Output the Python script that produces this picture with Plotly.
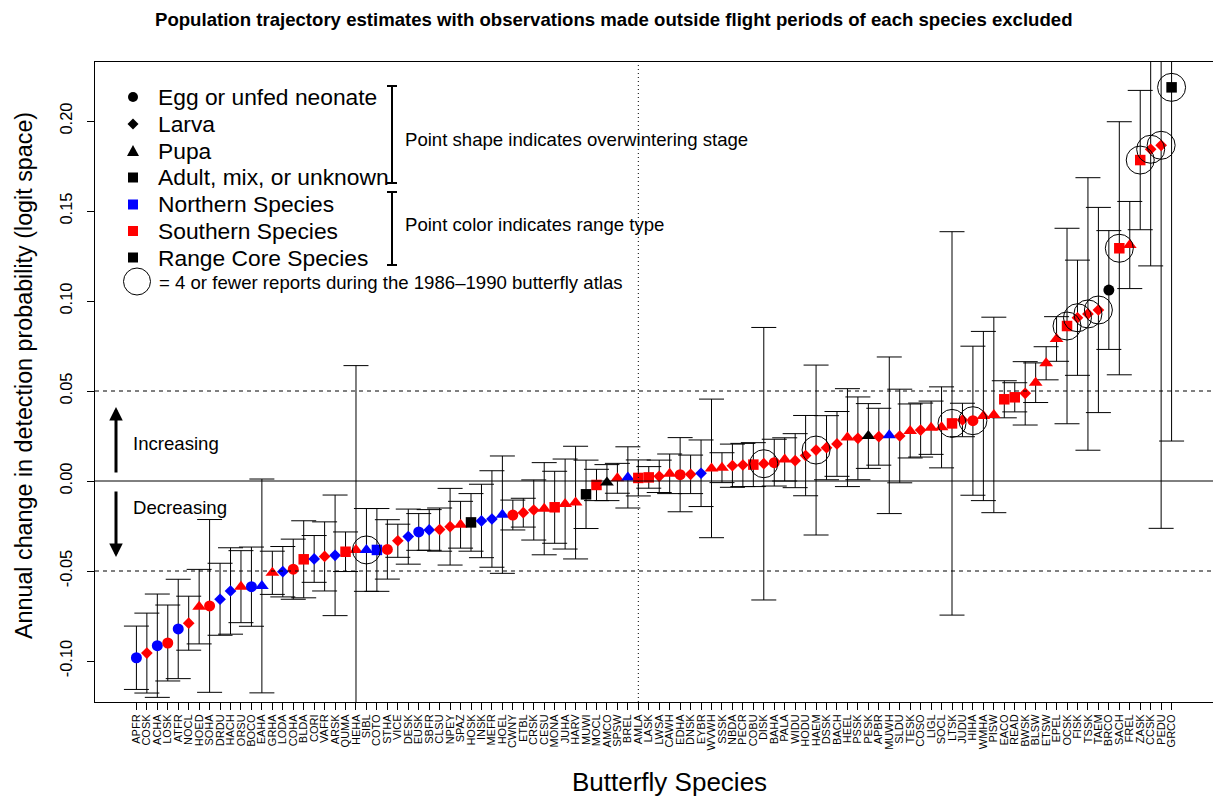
import plotly.graph_objects as go

# ---------------- data ----------------
species = ["APFR","COSK","ACHA","LOSK","ATFR","NOCL","HOED","SOHA","DRDU","HACH",
           "ORSU","BOCO","EAHA","GRHA","LODA","COHA","BLDA","CORI","VAFR","ARSK",
           "QUMA","HEHA","SIBL","COTO","STHA","VICE","DESK","EUSK","SBFR","CLSU",
           "NPEY","SPAZ","HOSK","INSK","MEFR","HOEL","CWNY","ETBL","CRSK","CESU",
           "MONA","JUHA","HARV","MUWI","MOCL","AMCO","SPSW","BREL","AMLA","LASK",
           "LWSA","CAWH","EDHA","DNSK","EYBR","WVWH","SSSK","NBDA","PECR","COBU",
           "DISK","BAHA","PALA","WIDU","HODU","HAEM","DSSK","BACH","HEEL","PSSK",
           "PESK","APBR","MUWH","SLDU","TESK","COSO","LIGL","SOCL","LTSK","JUDU",
           "HIHA","WMHA","PISW","EACO","READ","BWSK","BLSW","ETSW","EPEL","OCSK",
           "FISK","TSSK","TAEM","BRCO","SACH","FREL","ZASK","CCSK","PEDU","GRCO"]

estimate = [-0.0982,-0.0956,-0.0915,-0.0900,-0.0822,-0.0790,-0.0698,-0.0694,-0.0657,-0.0611,
            -0.0587,-0.0587,-0.0583,-0.0510,-0.0504,-0.0490,-0.0435,-0.0433,-0.0419,-0.0413,
            -0.0393,-0.0383,-0.0383,-0.0383,-0.0380,-0.0332,-0.0309,-0.0283,-0.0272,-0.0270,
            -0.0254,-0.0243,-0.0230,-0.0222,-0.0211,-0.0187,-0.0189,-0.0176,-0.0161,-0.0154,
            -0.0146,-0.0128,-0.0120,-0.0074,-0.0022,-0.0009,0.0015,0.0020,0.0017,0.0020,
            0.0026,0.0040,0.0035,0.0037,0.0043,0.0070,0.0074,0.0085,0.0089,0.0091,
            0.0096,0.0102,0.0120,0.0113,0.0141,0.0172,0.0185,0.0206,0.0241,0.0237,
            0.0250,0.0246,0.0254,0.0250,0.0278,0.0283,0.0296,0.0298,0.0320,0.0339,
            0.0335,0.0361,0.0367,0.0454,0.0465,0.0487,0.0546,0.0654,0.0789,0.0861,
            0.0907,0.0928,0.0950,0.1061,0.1293,0.1311,0.1783,0.1843,0.1865,0.2187]

ci_half = [0.0176,0.0222,0.0287,0.0211,0.0276,0.0150,0.0207,0.0480,0.0200,0.0240,
           0.0200,0.0220,0.0594,0.0120,0.0140,0.0167,0.0214,0.0130,0.0192,0.0335,
           0.0110,0.1024,0.0230,0.0230,0.0165,0.0092,0.0153,0.0102,0.0113,0.0120,
           0.0213,0.0130,0.0160,0.0204,0.0268,0.0326,0.0083,0.0080,0.0167,0.0256,
           0.0200,0.0250,0.0313,0.0190,0.0087,0.0100,0.0083,0.0170,0.0100,0.0060,
           0.0090,0.0110,0.0206,0.0107,0.0185,0.0385,0.0083,0.0120,0.0120,0.0122,
           0.0757,0.0130,0.0120,0.0150,0.0223,0.0472,0.0178,0.0180,0.0272,0.0230,
           0.0180,0.0158,0.0435,0.0260,0.0150,0.0150,0.0148,0.0225,0.1065,0.0093,
           0.0414,0.0470,0.0543,0.0103,0.0081,0.0176,0.0110,0.0092,0.0124,0.0543,
           0.0320,0.0757,0.0570,0.0330,0.0703,0.0242,0.0387,0.0648,0.2128,0.1965]

# overwintering stage: E egg/unfed neonate, L larva, P pupa, A adult/mix/unknown
stage = ["E","L","E","E","E","L","P","E","L","L",
         "P","E","P","P","L","E","A","L","L","L",
         "A","P","P","A","E","L","L","E","L","L",
         "L","P","A","L","L","P","E","L","L","P",
         "A","P","P","A","A","P","P","P","A","A",
         "L","P","E","L","L","P","P","L","L","A",
         "L","E","P","L","L","L","L","L","P","L",
         "P","L","P","L","P","L","P","P","A","L",
         "E","P","P","A","A","L","P","P","P","A",
         "L","L","L","E","A","P","A","L","L","A"]

# range type: N northern, S southern, C range core
range_type = ["N","S","N","S","N","S","S","S","N","N",
              "S","N","N","S","N","S","S","N","S","N",
              "S","S","N","N","S","S","N","N","N","S",
              "S","S","C","N","N","N","S","S","S","S",
              "S","S","S","C","S","C","S","N","S","S",
              "S","S","S","S","N","S","S","S","S","S",
              "S","S","S","S","S","S","S","S","S","S",
              "C","S","N","S","S","S","S","S","S","S",
              "S","S","S","S","S","S","S","S","S","S",
              "S","S","S","C","S","S","S","S","S","C"]

# 1 = 4 or fewer reports during the 1986-1990 atlas
few_reports = [0,0,0,0,0,0,0,0,0,0,
               0,0,0,0,0,0,0,0,0,0,
               0,0,1,0,0,0,0,0,0,0,
               0,0,0,0,0,0,0,0,0,0,
               0,0,0,0,0,0,0,0,0,0,
               0,0,0,0,0,0,0,0,0,0,
               1,0,0,0,0,1,0,0,0,0,
               0,0,0,0,0,0,0,0,1,0,
               1,0,0,0,0,0,0,0,0,1,
               1,1,1,0,1,0,1,1,1,1]

y_ticks = [-0.10, -0.05, 0.00, 0.05, 0.10, 0.15, 0.20]
y_tick_labels = ["-0.10", "-0.05", "0.00", "0.05", "0.10", "0.15", "0.20"]

# ---------------- styles ----------------
FONT = "Liberation Sans, Arial, Helvetica, sans-serif"
symbol_map = {"E": "circle", "L": "diamond", "P": "triangle-up", "A": "square"}
size_map = {"E": 11, "L": 9, "P": 12, "A": 10.5}
color_map = {"N": "#0000FF", "S": "#FF0000", "C": "#000000"}

W_IMG, H_IMG = 1213, 799
ML, MR, MT, MB = 95, 0, 62, 97
PW, PH = W_IMG - ML - MR, H_IMG - MT - MB


def px(x):
    return (x - ML) / PW


def py(y):
    return (MT + PH - y) / PH


fig = go.Figure()

# error bars (symmetric CIs)
fig.add_trace(go.Scatter(
    x=species, y=estimate, mode="markers",
    marker=dict(size=2, color="rgba(0,0,0,0)"),
    error_y=dict(type="data", array=ci_half, symmetric=True,
                 color="black", thickness=1, width=12.5),
    hoverinfo="skip", showlegend=False))

# points
fig.add_trace(go.Scatter(
    x=species, y=estimate, mode="markers",
    marker=dict(symbol=[symbol_map[s] for s in stage],
                size=[size_map[s] for s in stage],
                color=[color_map[r] for r in range_type],
                opacity=1, line=dict(width=0)),
    showlegend=False))

# circles for rare species
cx = [s for s, f in zip(species, few_reports) if f]
cy = [v for v, f in zip(estimate, few_reports) if f]
fig.add_trace(go.Scatter(
    x=cx, y=cy, mode="markers",
    marker=dict(symbol="circle-open", size=28, color="black", opacity=1,
                line=dict(width=1)),
    showlegend=False))

shapes = []
# reference lines
shapes.append(dict(type="line", xref="paper", yref="y", x0=0, x1=1, y0=0, y1=0,
                   line=dict(color="black", width=1)))
for yv in (0.05, -0.05):
    shapes.append(dict(type="line", xref="paper", yref="y", x0=0, x1=1, y0=yv, y1=yv,
                       line=dict(color="black", width=1, dash="4px,4px")))
mid = species.index("AMLA")
shapes.append(dict(type="line", xref="x", yref="paper", x0=mid, x1=mid, y0=0, y1=1,
                   line=dict(color="black", width=1, dash="1px,3px")))


# legend symbols (drawn in paper coords)
def sq(x, y, r, col):
    return dict(type="rect", xref="paper", yref="paper",
                x0=px(x - r), x1=px(x + r), y0=py(y + r), y1=py(y - r),
                fillcolor=col, line=dict(width=0))


shapes.append(dict(type="circle", xref="paper", yref="paper",
                   x0=px(128), x1=px(138), y0=py(102), y1=py(92),
                   fillcolor="black", line=dict(width=0)))
shapes.append(dict(type="path", xref="paper", yref="paper",
                   path=f"M {px(133)},{py(118.5)} L {px(138.5)},{py(124)} L {px(133)},{py(129.5)} L {px(127.5)},{py(124)} Z",
                   fillcolor="black", line=dict(width=0)))
shapes.append(dict(type="path", xref="paper", yref="paper",
                   path=f"M {px(127)},{py(156)} L {px(139)},{py(156)} L {px(133)},{py(145)} Z",
                   fillcolor="black", line=dict(width=0)))
shapes.append(sq(133, 177.5, 5, "black"))
shapes.append(sq(133, 204.5, 5, "#0000FF"))
shapes.append(sq(133, 231, 5, "#FF0000"))
shapes.append(sq(133, 257.5, 5, "black"))
shapes.append(dict(type="circle", xref="paper", yref="paper",
                   x0=px(123.5), x1=px(150.5), y0=py(295), y1=py(268),
                   line=dict(color="black", width=1)))

# brackets
for y0, y1 in ((86, 183), (192, 265)):
    shapes.append(dict(type="line", xref="paper", yref="paper",
                       x0=px(392), x1=px(392), y0=py(y0), y1=py(y1),
                       line=dict(color="black", width=2)))
    for yy in (y0, y1):
        shapes.append(dict(type="line", xref="paper", yref="paper",
                           x0=px(387), x1=px(397), y0=py(yy), y1=py(yy),
                           line=dict(color="black", width=2)))

ann = []


def text(x, y, s, size, xanchor="left", angle=0):
    ann.append(dict(x=px(x), y=py(y), xref="paper", yref="paper", text=s,
                    showarrow=False, xanchor=xanchor, yanchor="middle",
                    textangle=angle,
                    font=dict(family=FONT, size=size, color="black")))


text(614, 19, "<b>Population trajectory estimates with observations made outside flight periods of each species excluded</b>", 18.6, "center")
text(24, 376, "Annual change in detection probability (logit space)", 23.3, "center", angle=-90)
text(669, 782, "Butterfly Species", 26, "center")

legend_items = ["Egg or unfed neonate", "Larva", "Pupa", "Adult, mix, or unknown",
                "Northern Species", "Southern Species", "Range Core Species"]
for i, s in enumerate(legend_items):
    text(156, 97 + i * 26.8, s, 22.8)
text(157, 282, "= 4 or fewer reports during the 1986\u20131990 butterfly atlas", 18.6)
text(403, 139, "Point shape indicates overwintering stage", 18.6)
text(403, 224, "Point color indicates range type", 18.6)
text(131, 443, "Increasing", 18.6)
text(131, 507, "Decreasing", 18.6)

# arrows
ann.append(dict(x=px(116), y=py(407), xref="paper", yref="paper", ax=0, ay=67,
                axref="pixel", ayref="pixel", text="", showarrow=True,
                arrowhead=2, arrowsize=0.9, arrowwidth=3, arrowcolor="black"))
ann.append(dict(x=px(116), y=py(557), xref="paper", yref="paper", ax=0, ay=-67,
                axref="pixel", ayref="pixel", text="", showarrow=True,
                arrowhead=2, arrowsize=0.9, arrowwidth=3, arrowcolor="black"))

fig.update_layout(
    width=W_IMG, height=H_IMG,
    margin=dict(l=ML, r=MR, t=MT, b=MB),
    paper_bgcolor="white", plot_bgcolor="white",
    font=dict(family=FONT, color="black"),
    showlegend=False,
    shapes=shapes, annotations=ann,
    xaxis=dict(type="category", range=[-3.96, 102.96], tickangle=-90,
               tickmode="array", tickvals=species, ticktext=species,
               tickfont=dict(size=11, family=FONT), ticks="outside", ticklen=7,
               tickcolor="black", showline=True, mirror=True, linecolor="black",
               linewidth=1, showgrid=False, zeroline=False),
    yaxis=dict(range=[-0.12278, 0.23278], tickvals=y_ticks, ticktext=y_tick_labels,
               tickangle=-90, tickfont=dict(size=16.5, family=FONT), ticks="outside",
               ticklen=7, tickcolor="black", showline=True, mirror=True,
               linecolor="black", linewidth=1, showgrid=False, zeroline=False,
               ticklabelstandoff=8),
)

fig.write_html("out.html")
